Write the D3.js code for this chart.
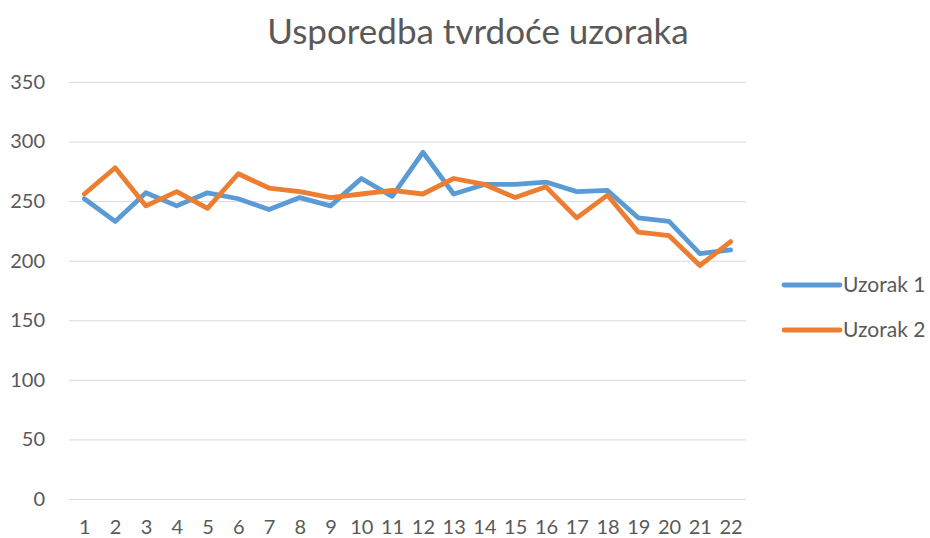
<!DOCTYPE html>
<html>
<head>
<meta charset="utf-8">
<script src="https://cdn.jsdelivr.net/npm/d3@7"></script>
<style>
  html, body { margin: 0; padding: 0; background: #fff; }
  svg { display: block; font-family: Lato, "Open Sans", sans-serif; }
</style>
</head>
<body>
<svg id="chart" width="930" height="538"></svg>
<script>
// Hardness measurements for two samples across 22 positions
const categories = d3.range(1, 23).map(String);
const uzorak1 = [252, 233, 257, 246, 257, 252, 243, 253, 246, 269, 254, 291, 256, 264, 264, 266, 258, 259, 236, 233, 206, 209];
const uzorak2 = [256, 278, 246, 258, 244, 273, 261, 258, 253, 256, 259, 256, 269, 264, 253, 262, 236, 255, 224, 221, 196, 216];
const yTicks = [0, 50, 100, 150, 200, 250, 300, 350];
const seriesNames = ["Uzorak 1", "Uzorak 2"];
const seriesColors = ["#5B9BD5", "#ED7D31"];

const svg = d3.select("#chart");
const plot = { left: 69, right: 746, top: 82, bottom: 499 };
const labelFont = "Lato, 'Open Sans', sans-serif";

const x = d3.scalePoint()
  .domain(categories)
  .range([plot.left, plot.right])
  .padding(0.5);

const y = d3.scaleLinear()
  .domain([0, 350])
  .range([plot.bottom, plot.top]);

// Title
svg.append("text")
  .attr("x", 478)
  .attr("y", 44)
  .attr("text-anchor", "middle")
  .attr("fill", "#595959")
  .attr("font-size", 35)
  .text("Usporedba tvrdoće uzoraka");

// Horizontal gridlines and y-axis labels
const yAxis = d3.axisLeft(y)
  .tickValues(yTicks)
  .tickSize(-(plot.right - plot.left))
  .tickPadding(24);

const gy = svg.append("g")
  .attr("transform", `translate(${plot.left},0)`)
  .call(yAxis);
gy.select(".domain").remove();
gy.selectAll(".tick line").attr("stroke", "#d9d9d9").attr("stroke-width", 1);
gy.selectAll(".tick text")
  .attr("fill", "#595959")
  .attr("font-size", 20)
  .attr("font-family", labelFont);

// Category axis labels
const xAxis = d3.axisBottom(x).tickSize(0).tickPadding(21);
const gx = svg.append("g")
  .attr("transform", `translate(0,${plot.bottom})`)
  .call(xAxis);
gx.select(".domain").remove();
gx.selectAll(".tick text")
  .attr("fill", "#595959")
  .attr("font-size", 20)
  .attr("font-family", labelFont);

// Series lines
const line = d3.line()
  .x((d, i) => x(categories[i]))
  .y(d => y(d));

[uzorak1, uzorak2].forEach((values, k) => {
  svg.append("path")
    .datum(values)
    .attr("fill", "none")
    .attr("stroke", seriesColors[k])
    .attr("stroke-width", 4.8)
    .attr("stroke-linejoin", "round")
    .attr("stroke-linecap", "round")
    .attr("d", line);
});

// Legend
const legend = svg.append("g").attr("transform", "translate(784,285)");
seriesNames.forEach((name, k) => {
  const g = legend.append("g").attr("transform", `translate(0,${k * 45})`);
  g.append("line")
    .attr("x1", 0).attr("x2", 56)
    .attr("y1", 0).attr("y2", 0)
    .attr("stroke", seriesColors[k])
    .attr("stroke-width", 4.8)
    .attr("stroke-linecap", "round");
  g.append("text")
    .attr("x", 59)
    .attr("y", 7)
    .attr("fill", "#595959")
    .attr("font-size", 21)
    .text(name);
});
</script>
</body>
</html>
